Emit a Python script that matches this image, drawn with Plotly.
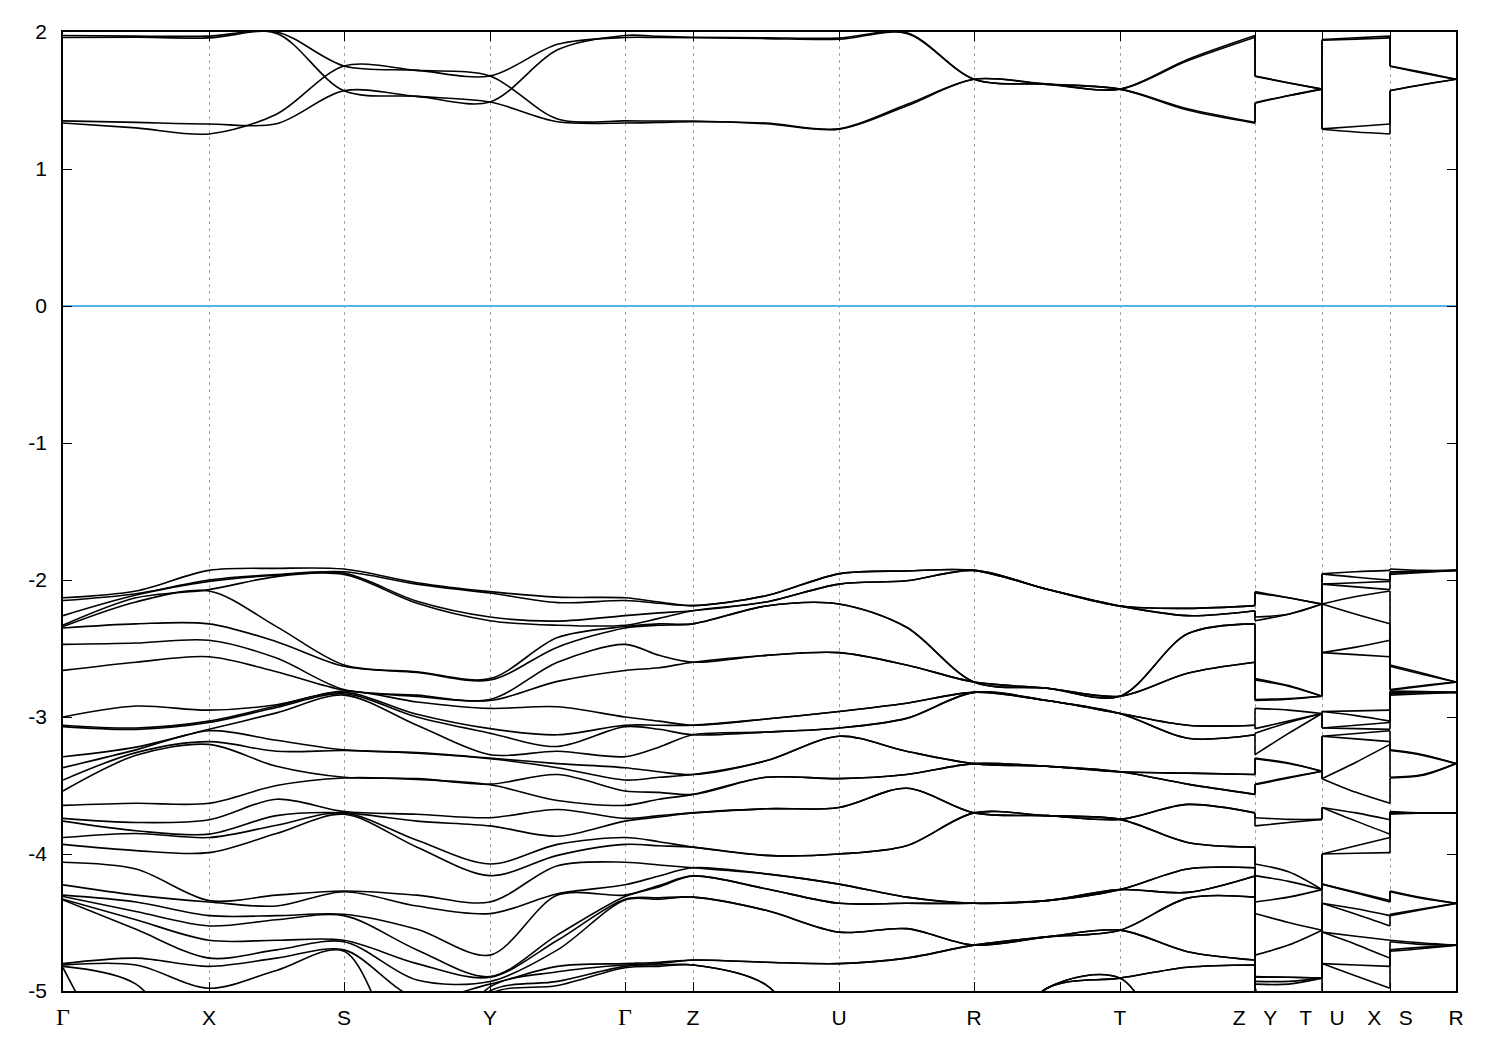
import plotly.graph_objects as go

# ---------------- k-path ----------------
K_TICK_POS = [0.0, 1.46, 2.81, 4.27, 5.62, 6.30, 7.76, 9.11, 10.57, 11.92, 12.59, 13.27, 13.93]
K_TICK_TXT = ["Γ", "X", "S", "Y", "Γ", "Z", "U", "R", "T", "Z   Y", "T   U", "X   S", "R"]

def deg(levels, n):
    return [e for e in levels for _ in range(n)]

# ---------------- valence bands: sorted energies (eV) at each node ----------------
G = [-2.13, -2.15, -2.26, -2.33, -2.34, -2.35, -2.47, -2.66, -3.00, -3.06, -3.07, -3.29, -3.37, -3.46, -3.54,
     -3.645, -3.74, -3.76, -3.88, -3.93, -4.06, -4.225, -4.30, -4.31, -4.33, -4.335, -4.80, -4.81, -4.82, -4.83]
M_GX = [-2.08, -2.10, -2.11, -2.13, -2.16, -2.32, -2.46, -2.60, -2.92, -3.08, -3.09, -3.22, -3.24, -3.26, -3.28,
        -3.63, -3.77, -3.83, -3.85, -3.975, -4.11, -4.30, -4.35, -4.42, -4.48, -4.55, -4.76, -4.81, -4.95]
X = [-1.93, -2.00, -2.01, -2.07, -2.08, -2.32, -2.44, -2.56, -2.95, -3.03, -3.04, -3.09, -3.10, -3.18, -3.20,
     -3.63, -3.75, -3.855, -3.88, -3.99, -4.34, -4.35, -4.45, -4.525, -4.63, -4.76, -4.82, -4.98]
M_XS = [-1.915, -1.96, -1.965, -1.975, -2.34, -2.45, -2.57, -2.67, -2.91, -2.92, -2.93, -2.97, -3.17, -3.25, -3.36,
        -3.50, -3.60, -3.72, -3.79, -3.85, -4.30, -4.38, -4.45, -4.48, -4.63, -4.70, -4.76, -4.85]
S = [-1.92, -1.94, -1.95, -1.96, -2.62, -2.63, -2.80, -2.805, -2.81, -2.82, -2.83, -2.84, -3.24, -3.245, -3.44,
     -3.445, -3.69, -3.70, -3.70, -3.71, -4.27, -4.275, -4.44, -4.45, -4.63, -4.64, -4.70, -4.71]
M_SY = [-2.02, -2.03, -2.155, -2.17, -2.67, -2.675, -2.84, -2.85, -2.89, -2.98, -3.00, -3.06, -3.26, -3.265, -3.45,
        -3.455, -3.71, -3.76, -3.90, -3.95, -4.30, -4.38, -4.55, -4.70, -4.80, -4.92, -5.05]
Y = [-2.085, -2.095, -2.27, -2.297, -2.72, -2.73, -2.872, -2.88, -2.937, -3.085, -3.118, -3.275, -3.30, -3.305,
     -3.49, -3.495, -3.735, -3.795, -4.073, -4.158, -4.35, -4.435, -4.738, -4.895, -4.90, -4.93, -4.95, -4.97,
     -5.0, -5.02]
M_YG = [-2.125, -2.165, -2.30, -2.33, -2.42, -2.49, -2.60, -2.74, -2.925, -3.13, -3.215, -3.25, -3.34, -3.37, -3.42,
        -3.61, -3.675, -3.87, -3.93, -4.01, -4.085, -4.29, -4.30, -4.59, -4.63, -4.70, -4.82, -4.86, -4.93, -4.96]
M_GZ = [-2.16, -2.17, -2.24, -2.28, -2.32, -2.33, -2.55, -2.64, -3.03, -3.06, -3.09, -3.22, -3.40, -3.44, -3.55,
        -3.60, -3.72, -3.73, -3.91, -3.94, -4.08, -4.16, -4.23, -4.24, -4.32, -4.33, -4.79, -4.80, -4.81, -4.82]
Z_LEVELS = [-2.187, -2.224, -2.32, -2.60, -3.06, -3.13, -3.42, -3.565, -3.70, -3.95, -4.10, -4.16, -4.315, -4.774, -4.81]
M_ZU_LEVELS = [-2.115, -2.16, -2.19, -2.55, -3.015, -3.11, -3.32, -3.44, -3.67, -4.01, -4.145, -4.254, -4.411, -4.79, -4.955]
U_LEVELS = [-1.955, -2.03, -2.175, -2.53, -2.96, -3.08, -3.14, -3.45, -3.66, -4.00, -4.22, -4.36, -4.57, -4.80]
M_UR_LEVELS = [-1.934, -2.006, -2.345, -2.62, -2.90, -3.01, -3.25, -3.42, -3.52, -3.94, -4.315, -4.36, -4.545, -4.76]
R_LEVELS = [-1.93, -2.745, -2.82, -3.34, -3.70, -4.36, -4.665]
M_RT_LEVELS = [-2.067, -2.79, -2.88, -3.36, -3.72, -4.34, -4.605, -4.98]
T_LEVELS = [-2.19, -2.848, -2.974, -3.40, -3.747, -4.26, -4.556, -4.906]
M_TZ_LEVELS = [-2.207, -2.26, -2.393, -2.68, -3.06, -3.155, -3.41, -3.49, -3.638, -3.916, -4.109, -4.28, -4.322,
               -4.713, -4.827]

Z = deg(Z_LEVELS, 2)
M_ZU = deg(M_ZU_LEVELS, 2)
U = deg(U_LEVELS, 2)
M_UR = deg(M_UR_LEVELS, 2)
R = deg(R_LEVELS, 4)
M_RT = deg(M_RT_LEVELS, 4)
T = deg(T_LEVELS, 4)
M_TZ = deg(M_TZ_LEVELS, 2)

# right-hand short segments
M_YT = [-2.13, -2.13, -2.25, -2.25, -2.77, -2.775, -2.865, -2.87, -2.95, -3.03, -3.04, -3.12, -3.336, -3.34, -3.44,
        -3.445, -3.747, -3.77, -4.13, -4.20, -4.315, -4.50, -4.665, -4.90, -4.90, -4.93, -4.95]
T2 = [-2.176, -2.176, -2.176, -2.176, -2.848, -2.848, -2.848, -2.848, -2.974, -2.974, -2.974, -2.974,
      -3.396, -3.396, -3.396, -3.396, -3.747, -3.747, -4.26, -4.26, -4.26, -4.556, -4.556,
      -4.906, -4.906, -4.906, -4.906]
M_UX = [-1.94, -1.98, -2.02, -2.05, -2.12, -2.25, -2.49, -2.545, -2.955, -2.99, -3.06, -3.085, -3.12, -3.16, -3.33,
        -3.55, -3.70, -3.76, -3.94, -3.995, -4.28, -4.285, -4.40, -4.44, -4.60, -4.66, -4.81, -4.89]
M_SR = [-1.93, -1.935, -1.94, -1.945, -2.68, -2.69, -2.77, -2.775, -2.815, -2.82, -2.82, -2.83, -3.275, -3.28, -3.42,
        -3.425, -3.70, -3.70, -3.70, -3.70, -4.32, -4.325, -4.40, -4.405, -4.65, -4.66, -4.68, -4.69]

# ---------------- conduction bands (band-major, eV) ----------------
C_P1 = [
    [1.975, 1.97, 1.97, 1.99, 1.571, 1.53, 1.489, 1.87, 1.975, 1.968, 1.962, 1.958, 1.955, 1.995, 1.655, 1.62, 1.583, 1.80, 1.975],
    [1.96, 1.962, 1.957, 2.0, 1.752, 1.72, 1.679, 1.91, 1.96, 1.96, 1.958, 1.952, 1.947, 1.99, 1.655, 1.618, 1.583, 1.79, 1.962],
    [1.351, 1.34, 1.329, 1.33, 1.571, 1.53, 1.489, 1.345, 1.336, 1.34, 1.345, 1.335, 1.293, 1.47, 1.655, 1.62, 1.583, 1.44, 1.341],
    [1.336, 1.30, 1.256, 1.40, 1.752, 1.72, 1.679, 1.365, 1.351, 1.35, 1.35, 1.33, 1.29, 1.46, 1.655, 1.618, 1.583, 1.43, 1.335],
]
C_P2 = [[1.679, 1.63, 1.583], [1.676, 1.628, 1.583], [1.481, 1.535, 1.583], [1.484, 1.537, 1.583]]
C_P3 = [[1.945, 1.958, 1.97], [1.94, 1.948, 1.957], [1.293, 1.31, 1.329], [1.29, 1.27, 1.256]]
C_P4 = [[1.752, 1.705, 1.655], [1.75, 1.70, 1.655], [1.571, 1.615, 1.655], [1.573, 1.617, 1.655]]

BELOW = -5.6  # bands that lie under the plotted window

# ---------------- build geometry ----------------
def piece_k(i0, i1):
    ks = []
    for i in range(i0, i1):
        a, b = K_TICK_POS[i], K_TICK_POS[i + 1]
        if not ks:
            ks.append(a)
        ks.append((a + b) / 2)
        ks.append(b)
    return ks

PIECES = [
    (piece_k(0, 9), [G, M_GX, X, M_XS, S, M_SY, Y, M_YG, G, M_GZ, Z, M_ZU, U, M_UR, R, M_RT, T, M_TZ, Z], C_P1),
    (piece_k(9, 10), [Y, M_YT, T2], C_P2),
    (piece_k(10, 11), [U, M_UX, X], C_P3),
    (piece_k(11, 12), [S, M_SR, R], C_P4),
]

NB = max(len(n) for _, nodes, _ in PIECES for n in nodes)

def val(lst, i):
    return lst[i] if i < len(lst) else BELOW

fig = go.Figure()
LINE = dict(color="black", width=1.6)

band_ends = []
for ks, nodes, cb in PIECES:
    xs, ys = [], []
    ends = []
    for i in range(NB):
        e = [val(n, i) for n in nodes]
        xs += ks + [None]
        ys += e + [None]
        ends.append((e[0], e[-1]))
    for band in cb:
        xs += ks + [None]
        ys += band + [None]
        ends.append((band[0], band[-1]))
    band_ends.append(ends)
    fig.add_trace(go.Scatter(x=xs, y=ys, mode="lines", line=dict(shape="spline", smoothing=0.9, **LINE),
                             hoverinfo="skip", showlegend=False))

# vertical jumps at the discontinuities of the path
cx, cy = [], []
for p in range(len(PIECES) - 1):
    kj = PIECES[p][0][-1]
    for (s0, e0), (s1, e1) in zip(band_ends[p], band_ends[p + 1]):
        cx += [kj, kj, None]
        cy += [e0, s1, None]
fig.add_trace(go.Scatter(x=cx, y=cy, mode="lines", line=LINE, hoverinfo="skip", showlegend=False))

tick_txt = [("<span style='font-family:Liberation Serif;font-size:24px'>Γ</span>" if t == "Γ" else t.replace(" ", "\u00a0"))
            for t in K_TICK_TXT]

Y_TICKS = [-5, -4, -3, -2, -1, 0, 1, 2]

fig.update_layout(
    width=1484, height=1034,
    margin=dict(l=55, r=36, t=20, b=49),
    paper_bgcolor="white", plot_bgcolor="white",
    font=dict(family="Liberation Sans, Arial, sans-serif", size=21, color="black"),
    xaxis=dict(range=[K_TICK_POS[0], K_TICK_POS[-1]], tickvals=K_TICK_POS, ticktext=tick_txt,
               showgrid=True, gridcolor="#a0a0a0", gridwidth=1, griddash="3px,4px",
               showline=True, linecolor="black", linewidth=1.6, mirror="allticks",
               ticks="inside", ticklen=9, tickcolor="black", tickwidth=1.3,
               zeroline=False, ticklabelstandoff=7),
    yaxis=dict(range=[-5, 2], tickvals=Y_TICKS, ticktext=[str(v) for v in Y_TICKS],
               showgrid=False, showline=True, linecolor="black", linewidth=1.6, mirror="allticks",
               ticks="inside", ticklen=9, tickcolor="black", tickwidth=1.3,
               zeroline=True, zerolinecolor="#56B4E9", zerolinewidth=1.6, ticklabelstandoff=10),
)

fig.write_html("out.html")
